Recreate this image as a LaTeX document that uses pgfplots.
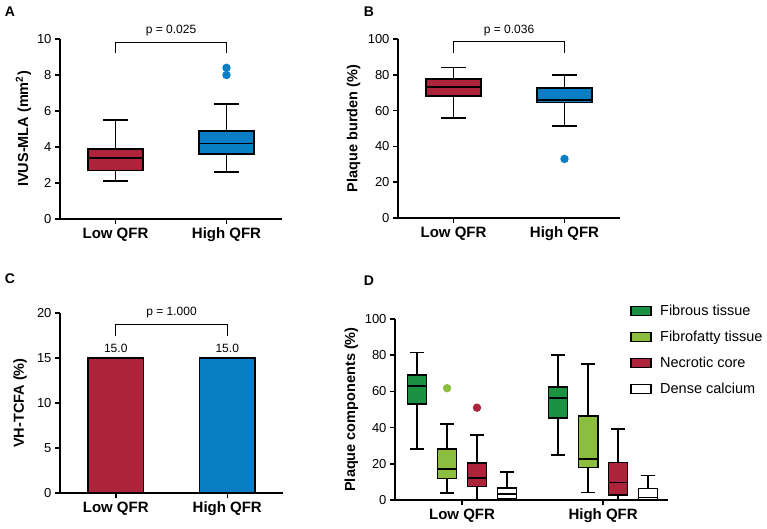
\documentclass[border=0pt]{standalone}
\usepackage{fontspec}
\setmainfont{Liberation Sans}
\usepackage{pgfplots}
\pgfplotsset{compat=1.18}
\usepgfplotslibrary{statistics}

\definecolor{qred}{RGB}{173,36,58}
\definecolor{qblue}{RGB}{10,126,196}
\definecolor{dkgreen}{RGB}{27,145,66}
\definecolor{ltgreen}{RGB}{139,190,62}

\pgfplotsset{
  panel/.style={
    scale only axis,
    anchor=south west,
    axis lines=left,
    axis line style={-, line width=1.5pt},
    tick style={black, line width=1.5pt},
    major tick length=5pt,
    tick align=outside,
    clip=false,
    xtick={0,1},
    xticklabels={Low QFR, High QFR},
    xticklabel style={font=\bfseries\fontsize{15}{18}\selectfont},
    yticklabel style={font=\fontsize{13}{15}\selectfont},
    ylabel style={font=\bfseries\fontsize{14.5}{17}\selectfont, anchor=center},
    /pgf/number format/assume math mode=true,
    boxplot/draw direction=y,
    boxplot/every box/.style={line width=1.7pt},
    boxplot/every whisker/.style={line width=1.7pt},
    boxplot/every median/.style={line width=1.7pt},
  },
  bx/.style={line width=1.7pt, draw=black, solid, mark=*, mark size=3.3pt},
}

\begin{document}
\begin{tikzpicture}
\path[use as bounding box] (0,0) rectangle (767pt,529pt);

% panel letters
\node[font=\bfseries\fontsize{14}{16}\selectfont] at (10pt,517pt) {A};
\node[font=\bfseries\fontsize{14}{16}\selectfont] at (369pt,517pt) {B};
\node[font=\bfseries\fontsize{14}{16}\selectfont] at (10pt,250pt) {C};
\node[font=\bfseries\fontsize{14}{16}\selectfont] at (369pt,248pt) {D};

% ---------- A ----------
\begin{axis}[panel, at={(60pt,310pt)}, width=222pt, height=180pt,
  xmin=-0.5, xmax=1.5, ymin=0, ymax=10, ytick={0,2,...,10},
  ylabel={IVUS-MLA (mm\textsuperscript{2})},
  ylabel style={at={(axis description cs:-0.165,0.5)}},
  boxplot/box extend=0.5, boxplot/whisker extend=0.225]
\addplot[bx, fill=qred, mark options={fill=qred, draw=qred}, boxplot prepared={draw position=0,
  lower whisker=2.1, lower quartile=2.7, median=3.4, upper quartile=3.9, upper whisker=5.5}]
  coordinates {};
\addplot[bx, fill=qblue, mark options={fill=qblue, draw=qblue}, boxplot prepared={draw position=1,
  lower whisker=2.6, lower quartile=3.6, median=4.2, upper quartile=4.9, upper whisker=6.4}]
  table[row sep=\\, y index=0] {8.0\\ 8.4\\};
\draw[line width=0.9pt] (axis cs:0,9.2) -- (axis cs:0,9.83) -- (axis cs:1,9.83) -- (axis cs:1,9.2);
\node[font=\fontsize{12}{14}\selectfont] at (axis cs:0.5,10.45) {p = 0.025};
\end{axis}

% ---------- B ----------
\begin{axis}[panel, at={(398pt,311pt)}, width=222pt, height=179pt,
  xmin=-0.5, xmax=1.5, ymin=0, ymax=100, ytick={0,20,...,100},
  ylabel={Plaque burden (\%)},
  ylabel style={at={(axis description cs:-0.2,0.5)}},
  boxplot/box extend=0.5, boxplot/whisker extend=0.225]
\addplot[bx, fill=qred, mark options={fill=qred, draw=qred}, boxplot prepared={draw position=0,
  lower whisker=56, lower quartile=68, median=73, upper quartile=77.5, upper whisker=84}]
  coordinates {};
\addplot[bx, fill=qblue, mark options={fill=qblue, draw=qblue}, boxplot prepared={draw position=1,
  lower whisker=51.5, lower quartile=64.5, median=66, upper quartile=72.5, upper whisker=80}]
  table[row sep=\\, y index=0] {33\\};
\draw[line width=0.9pt] (axis cs:0,92.4) -- (axis cs:0,98.5) -- (axis cs:1,98.5) -- (axis cs:1,92.4);
\node[font=\fontsize{12}{14}\selectfont] at (axis cs:0.5,104.5) {p = 0.036};
\end{axis}

% ---------- C ----------
\begin{axis}[panel, at={(60pt,36pt)}, width=223pt, height=180pt,
  xmin=-0.5, xmax=1.5, ymin=0, ymax=20, ytick={0,5,...,20},
  ylabel={VH-TCFA (\%)},
  ylabel style={at={(axis description cs:-0.179,0.5)}},
  ybar, bar width=0.5,
  nodes near coords,
  every node near coord/.append style={font=\fontsize{12}{14}\selectfont, yshift=1pt,
    /pgf/number format/.cd, fixed, fixed zerofill, precision=1}]
\addplot[ybar, bar shift=0pt, fill=qred, draw=black, line width=1.7pt] coordinates {(0,15)};
\addplot[ybar, bar shift=0pt, fill=qblue, draw=black, line width=1.7pt] coordinates {(1,15)};
\draw[line width=0.9pt] (axis cs:0,17.4) -- (axis cs:0,18.7) -- (axis cs:1,18.7) -- (axis cs:1,17.4);
\node[font=\fontsize{12}{14}\selectfont] at (axis cs:0.5,20.1) {p = 1.000};
\end{axis}

% ---------- D ----------
\begin{axis}[panel, at={(395pt,29pt)}, width=273pt, height=181pt,
  xmin=-0.475, xmax=1.46, ymin=0, ymax=100, ytick={0,20,...,100},
  ylabel={Plaque components (\%)},
  ylabel style={at={(axis description cs:-0.16,0.5)}},
  boxplot/box extend=0.135, boxplot/whisker extend=0.1,
  legend style={draw=none, fill=none, at={(axis description cs:0.85,1.1)}, anchor=north west,
    font=\fontsize{14.5}{16}\selectfont, row sep=10pt},
  legend cell align=left,
  legend image code/.code={\draw[#1, line width=1.4pt] (0pt,-4.5pt) rectangle (20pt,4.5pt); \path (27pt,0pt);}]
% Low QFR
\addplot[bx, forget plot, fill=dkgreen, boxplot prepared={draw position=-0.319,
  lower whisker=28, lower quartile=53, median=63, upper quartile=69, upper whisker=81.5}]
  coordinates {};
\addplot[bx, forget plot, fill=ltgreen, mark options={fill=ltgreen, draw=ltgreen}, boxplot prepared={draw position=-0.106,
  lower whisker=3.7, lower quartile=11.8, median=17, upper quartile=28, upper whisker=42}]
  table[row sep=\\, y index=0] {61.8\\};
\addplot[bx, forget plot, fill=qred, mark options={fill=qred, draw=qred}, boxplot prepared={draw position=0.106,
  lower whisker=0, lower quartile=7.4, median=12.2, upper quartile=20.3, upper whisker=36}]
  table[row sep=\\, y index=0] {51\\};
\addplot[bx, forget plot, fill=white, boxplot prepared={draw position=0.319,
  lower whisker=0, lower quartile=0.5, median=3.2, upper quartile=6.7, upper whisker=15.4}]
  coordinates {};
% High QFR
\addplot[bx, forget plot, fill=dkgreen, boxplot prepared={draw position=0.681,
  lower whisker=24.9, lower quartile=45.2, median=56.3, upper quartile=62.4, upper whisker=80.3}]
  coordinates {};
\addplot[bx, forget plot, fill=ltgreen, boxplot prepared={draw position=0.894,
  lower whisker=4.2, lower quartile=18, median=22.5, upper quartile=46.5, upper whisker=75.3}]
  coordinates {};
\addplot[bx, forget plot, fill=qred, boxplot prepared={draw position=1.106,
  lower whisker=0, lower quartile=2.6, median=9.6, upper quartile=20.7, upper whisker=39.3}]
  coordinates {};
\addplot[bx, forget plot, fill=white, boxplot prepared={draw position=1.319,
  lower whisker=0, lower quartile=0.3, median=1.3, upper quartile=6.3, upper whisker=13.5}]
  coordinates {};
\addlegendimage{fill=dkgreen, draw=black}
\addlegendentry{Fibrous tissue}
\addlegendimage{fill=ltgreen, draw=black}
\addlegendentry{Fibrofatty tissue}
\addlegendimage{fill=qred, draw=black}
\addlegendentry{Necrotic core}
\addlegendimage{fill=white, draw=black}
\addlegendentry{Dense calcium}
\end{axis}
\end{tikzpicture}
\end{document}
